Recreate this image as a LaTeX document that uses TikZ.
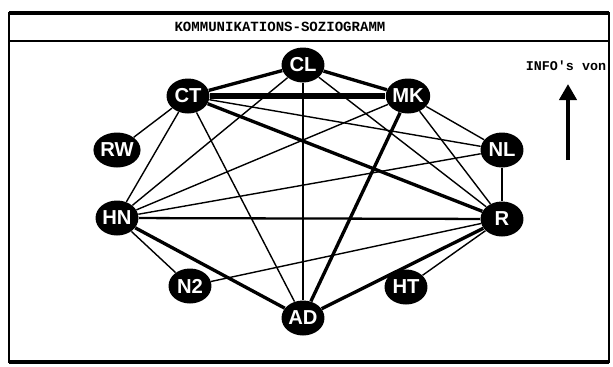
\documentclass[tikz,border=0pt]{standalone}
\usepackage{fontspec}
\setmainfont{Liberation Sans}
\newfontfamily\screenfont{Liberation Mono}
\usetikzlibrary{arrows.meta, shapes.geometric}

\begin{document}
\begin{tikzpicture}[
  x=0.02cm, y=-0.02cm,
  person/.style={
    ellipse, fill=black, text=white,
    minimum width=0.86cm, minimum height=0.7cm, inner sep=0pt,
    font=\fontsize{11.5}{12}\selectfont\bfseries
  },
  weak/.style={line width=0.8pt},
  medium/.style={line width=1.3pt},
  strong/.style={line width=1.9pt},
  heavy/.style={line width=3.2pt},
  rim/.style={line width=2.4pt},
  caption/.style={font=\screenfont\fontsize{8}{9}\selectfont\bfseries}
]
  \useasboundingbox (0,0) rectangle (613,366);
  \fill[white] (0,0) rectangle (613,366);

  % frame and title bar
  \draw[line width=1.6pt] (9,13) rectangle (609,362);
  \draw[rim] (9,13) -- (609,13);
  \draw[rim] (9,362) -- (609,362);
  \draw[line width=1.6pt] (9,41) -- (609,41);
  \node[caption] (title) at (280,27) {KOMMUNIKATIONS-SOZIOGRAMM};

  % the people
  \node[person] (cl) at (303,65) {CL};
  \node[person] (ct) at (188,96) {CT};
  \node[person] (mk) at (408,96) {MK};
  \node[person] (rw) at (117,150) {RW};
  \node[person] (nl) at (502,150) {NL};
  \node[person] (hn) at (117,218) {HN};
  \node[person] (r) at (502,219) {R};
  \node[person] (n2) at (190,286) {N2};
  \node[person] (ht) at (406,287) {HT};
  \node[person] (ad) at (303,318) {AD};

  % contacts
  \draw[heavy] (ct) -- (mk);
  \draw[strong] (ct) -- (cl);
  \draw[strong] (cl) -- (mk);
  \draw[weak] (ct) -- (rw);
  \draw[weak] (ct) -- (hn);
  \draw[weak] (ct) -- (ad);
  \draw[weak] (ct) -- (nl);
  \draw[strong] (ct) -- (r);
  \draw[medium] (cl) -- (ad);
  \draw[weak] (cl) -- (hn);
  \draw[weak] (cl) -- (r);
  \draw[weak] (mk) -- (nl);
  \draw[weak] (mk) -- (r);
  \draw[weak] (mk) -- (hn);
  \draw[strong] (mk) -- (ad);
  \draw[weak] (nl) -- (r);
  \draw[weak] (nl) -- (hn);
  \draw[medium] (hn) -- (r);
  \draw[weak] (hn) -- (n2);
  \draw[strong] (hn) -- (ad);
  \draw[weak] (n2) -- (r);
  \draw[strong] (ad) -- (r);
  \draw[weak] (ht) -- (r);

  % direction legend
  \node[caption, font=\screenfont\fontsize{7.6}{9}\selectfont\bfseries] (info) at (566,66) {INFO's von};
  \coordinate (tail) at (568,160);
  \coordinate (tip) at (568,84);
  \draw[-{Triangle[length=0.32cm, width=0.34cm]}, line width=2.3pt] (tail) -- (tip);
\end{tikzpicture}
\end{document}
